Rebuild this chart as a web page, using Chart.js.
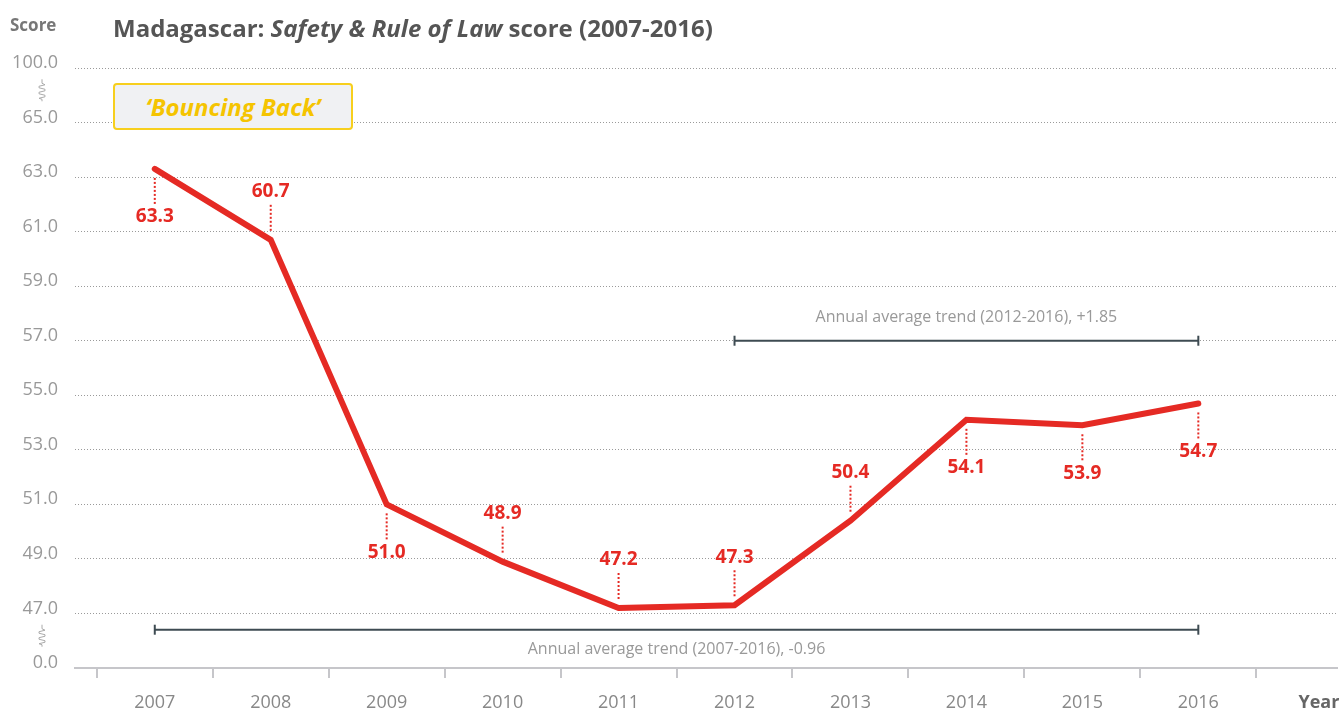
<!DOCTYPE html>
<html>
<head>
<meta charset="utf-8">
<script src="https://cdn.jsdelivr.net/npm/chart.js@4.4.1/dist/chart.umd.min.js"></script>
<style>
    html, body { margin: 0; padding: 0; background: #fff; }
    #wrap { position: relative; width: 1344px; height: 709px; font-family: 'Open Sans', sans-serif; }
    #chart { position: absolute; left: 0; top: 0; }
    .score { position: absolute; left: 10px; top: 13px; font-size: 17px; font-weight: 700; color: #777; }
    .title { position: absolute; left: 113px; top: 11px; font-size: 24px; font-weight: 700; color: #555; white-space: nowrap; }
    .badge { position: absolute; left: 113px; top: 83px; width: 240px; height: 47px; box-sizing: border-box;
             background: #f0f1f3; border: 2px solid #f7cf1d; border-radius: 4px;
             color: #f5c400; font-size: 24px; font-weight: 700; font-style: italic;
             display: flex; align-items: center; justify-content: center; }
</style>
</head>
<body>
<div id="wrap">
    <canvas id="chart" width="1344" height="709"></canvas>
    <div class="score">Score</div>
    <div class="title">Madagascar: <i>Safety &amp; Rule of Law</i> score (2007-2016)</div>
    <div class="badge">‘Bouncing Back’</div>
</div>
<script>
const years = [2007, 2008, 2009, 2010, 2011, 2012, 2013, 2014, 2015, 2016];
const scores = [63.3, 60.7, 51.0, 48.9, 47.2, 47.3, 50.4, 54.1, 53.9, 54.7];
// broken axis: every tick gets the same spacing
const yTickValues = [0, 47, 49, 51, 53, 55, 57, 59, 61, 63, 65, 100];
const yTickLabels = ['0.0', '47.0', '49.0', '51.0', '53.0', '55.0', '57.0', '59.0', '61.0', '63.0', '65.0', '100.0'];
const labelSide = ['below', 'above', 'below', 'above', 'above', 'above', 'above', 'below', 'below', 'below'];
const trendRecent = { from: 2012, to: 2016, level: 57, text: 'Annual average trend (2012-2016), +1.85', side: 'above' };
const trendFull = { from: 2007, to: 2016, level: 33, text: 'Annual average trend (2007-2016), -0.96', side: 'below' };

const RED = '#e52a24';
const SLATE = '#3e4b52';

const toAxis = (v) => {
    for (let i = 1; i < yTickValues.length; i++) {
        if (v <= yTickValues[i]) {
            const a = yTickValues[i - 1], b = yTickValues[i];
            return i - 1 + (v - a) / (b - a);
        }
    }
    return yTickValues.length - 1;
};

const trendDataset = (t) => ({
    data: [{ x: t.from, y: toAxis(t.level) }, { x: t.to, y: toAxis(t.level) }],
    borderColor: SLATE,
    borderWidth: 2,
    pointStyle: 'line',
    rotation: 90,
    pointRadius: 5,
    pointBorderWidth: 2,
    pointBorderColor: SLATE,
    trend: t
});

// red value labels with dotted leaders
const valueLabels = {
    id: 'valueLabels',
    afterDatasetsDraw(chart) {
        const ctx = chart.ctx;
        const meta = chart.getDatasetMeta(0);
        ctx.save();
        meta.data.forEach((pt, i) => {
            const dir = labelSide[i] === 'above' ? -1 : 1;
            ctx.strokeStyle = RED;
            ctx.lineWidth = 2;
            ctx.setLineDash([2, 2]);
            ctx.beginPath();
            ctx.moveTo(pt.x, pt.y + dir * 9);
            ctx.lineTo(pt.x, pt.y + dir * 35);
            ctx.stroke();
            ctx.setLineDash([]);
            ctx.fillStyle = RED;
            ctx.font = "700 19px 'Open Sans'";
            ctx.textAlign = 'center';
            ctx.textBaseline = 'middle';
            ctx.fillText(scores[i].toFixed(1), pt.x, pt.y + dir * 48);
        });
        // trend captions
        chart.data.datasets.forEach((ds, di) => {
            if (!ds.trend) return;
            const pts = chart.getDatasetMeta(di).data;
            const cx = (pts[0].x + pts[1].x) / 2;
            const cy = pts[0].y + (ds.trend.side === 'above' ? -23 : 20);
            ctx.fillStyle = '#999';
            ctx.font = "16px 'Open Sans'";
            ctx.textAlign = 'center';
            ctx.textBaseline = 'middle';
            ctx.fillText(ds.trend.text, cx, cy);
        });
        ctx.restore();
    }
};

// zigzag marks where the y axis is broken
const axisBreaks = {
    id: 'axisBreaks',
    afterDraw(chart) {
        const ctx = chart.ctx;
        const y = chart.scales.y;
        const n = yTickLabels.length;
        [0.5, n - 1.5].forEach((pos) => {
            const cy = y.getPixelForValue(pos) - 5;
            const x = 42;
            ctx.save();
            ctx.strokeStyle = '#aaa';
            ctx.lineWidth = 1;
            ctx.beginPath();
            ctx.moveTo(x, cy - 11);
            ctx.lineTo(x, cy - 7);
            let yy = cy - 7;
            for (let k = 0; k < 5; k++) {
                ctx.lineTo(x + (k % 2 ? -3 : 3), yy + 1.5);
                yy += 3;
                ctx.lineTo(x + (k % 2 ? 3 : -3), yy);
            }
            ctx.lineTo(x, cy + 9);
            ctx.lineTo(x, cy + 11);
            ctx.stroke();
            ctx.restore();
        });
    }
};

const YEAR_TICK = 2017.04;

new Chart(document.getElementById('chart'), {
    type: 'line',
    data: {
        datasets: [
            {
                data: years.map((yr, i) => ({ x: yr, y: toAxis(scores[i]) })),
                borderColor: RED,
                borderWidth: 6,
                borderCapStyle: 'round',
                borderJoinStyle: 'miter',
                pointRadius: 0,
                tension: 0
            },
            trendDataset(trendRecent),
            trendDataset(trendFull)
        ]
    },
    options: {
        responsive: false,
        animation: false,
        layout: { padding: { top: 68, right: 4, left: 0, bottom: 0 } },
        plugins: { legend: { display: false }, tooltip: { enabled: false } },
        scales: {
            x: {
                type: 'linear',
                min: 2006.312,
                max: 2017.196,
                afterBuildTicks: (s) => {
                    const t = [];
                    for (let v = 2006.5; v <= 2016.5; v += 1) t.push({ value: v });
                    years.forEach((v) => t.push({ value: v }));
                    t.push({ value: YEAR_TICK });
                    t.sort((a, b) => a.value - b.value);
                    s.ticks = t;
                },
                afterFit: (s) => { s.height = 41; s.paddingLeft = 0; s.paddingRight = 0; },
                ticks: {
                    autoSkip: false,
                    maxRotation: 0,
                    padding: 14,
                    callback: (v) => {
                        if (v === YEAR_TICK) return 'Year';
                        return years.includes(v) ? String(v) : '';
                    },
                    color: (c) => c.tick && c.tick.value === YEAR_TICK ? '#666' : '#888',
                    font: (c) => ({ family: "'Open Sans'", size: 18, weight: c.tick && c.tick.value === YEAR_TICK ? '700' : '400' })
                },
                grid: {
                    drawOnChartArea: false,
                    tickLength: 10,
                    lineWidth: 2,
                    color: (c) => c.tick && Math.abs(c.tick.value % 1 - 0.5) < 1e-6 ? '#c6c6ca' : 'rgba(0,0,0,0)'
                },
                border: { display: true, color: '#c6c6ca', width: 2 }
            },
            y: {
                min: 0,
                max: yTickLabels.length - 1,
                afterBuildTicks: (s) => { s.ticks = yTickLabels.map((_, i) => ({ value: i })); },
                afterFit: (s) => { s.width = 75; s.paddingTop = 0; s.paddingBottom = 0; },
                ticks: {
                    callback: (v, i) => yTickLabels[i],
                    padding: 17,
                    labelOffset: -5,
                    color: '#999',
                    font: { family: "'Open Sans'", size: 18 }
                },
                grid: {
                    drawTicks: false,
                    lineWidth: 1,
                    color: (c) => c.index === 0 ? 'rgba(0,0,0,0)' : '#9a9a9a'
                },
                border: { display: false, dash: [1, 2] }
            }
        }
    },
    plugins: [valueLabels, axisBreaks]
});
</script>
</body>
</html>
